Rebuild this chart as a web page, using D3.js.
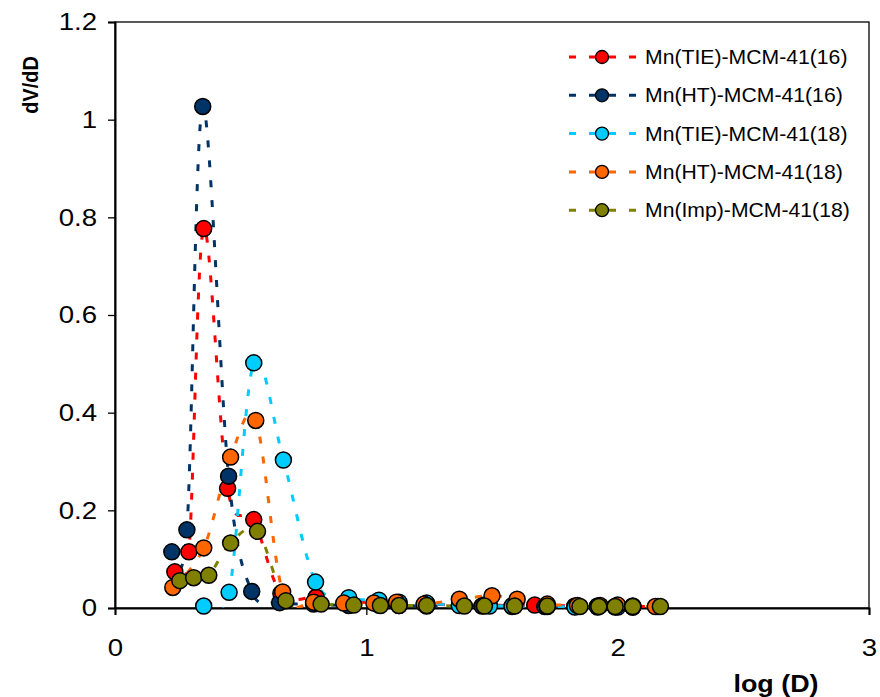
<!DOCTYPE html>
<html>
<head>
<meta charset="utf-8">
<script src="https://cdn.jsdelivr.net/npm/d3@7"></script>
<style>
    body { margin: 0; background: #fff; }
    text { font-family: "Liberation Sans", Arial, sans-serif; fill: #000; }
</style>
</head>
<body>
<div id="chart"></div>
<script>
// series labels + colours (legend order)
const seriesNames = [
    "Mn(TIE)-MCM-41(16)",
    "Mn(HT)-MCM-41(16)",
    "Mn(TIE)-MCM-41(18)",
    "Mn(HT)-MCM-41(18)",
    "Mn(Imp)-MCM-41(18)"
];
const seriesColors = ["#ff0000", "#003366", "#00ccff", "#ff6600", "#808000"];

// values: log(D) and dV/dD
const logD_TIE16 = [0.238, 0.294, 0.353, 0.448, 0.552, 0.66, 0.80, 0.93, 1.05, 1.13, 1.24, 1.38, 1.47, 1.59, 1.67, 1.83, 1.92, 1.99, 2.06, 2.16];
const dvdd_TIE16 = [0.074, 0.115, 0.777, 0.245, 0.181, 0.030, 0.022, 0.012, 0.012, 0.010, 0.008, 0.006, 0.006, 0.005, 0.006, 0.004, 0.004, 0.003, 0.003, 0.003];

const logD_HT16 = [0.226, 0.286, 0.349, 0.452, 0.544, 0.655, 0.79, 0.93, 1.05, 1.13, 1.24, 1.38, 1.46, 1.58, 1.71, 1.83, 1.92, 1.99, 2.06];
const dvdd_HT16 = [0.115, 0.160, 1.027, 0.270, 0.034, 0.011, 0.008, 0.005, 0.006, 0.005, 0.004, 0.005, 0.004, 0.003, 0.003, 0.003, 0.003, 0.002, 0.002];

const logD_TIE18 = [0.353, 0.454, 0.552, 0.67, 0.798, 0.93, 1.05, 1.13, 1.24, 1.37, 1.49, 1.58, 1.72, 1.83, 1.92, 2.00, 2.06];
const dvdd_TIE18 = [0.004, 0.032, 0.502, 0.303, 0.053, 0.021, 0.016, 0.012, 0.010, 0.005, 0.004, 0.004, 0.003, 0.002, 0.002, 0.002, 0.002];

const logD_HT18 = [0.23, 0.353, 0.46, 0.56, 0.667, 0.79, 0.91, 1.03, 1.12, 1.23, 1.37, 1.50, 1.60, 1.72, 1.84, 1.93, 2.00, 2.06, 2.15];
const dvdd_HT18 = [0.042, 0.123, 0.309, 0.384, 0.033, 0.012, 0.010, 0.010, 0.012, 0.008, 0.018, 0.025, 0.018, 0.008, 0.005, 0.005, 0.006, 0.004, 0.003];

const logD_Imp18 = [0.258, 0.313, 0.373, 0.46, 0.567, 0.68, 0.82, 0.95, 1.056, 1.13, 1.24, 1.39, 1.47, 1.59, 1.72, 1.85, 1.925, 1.99, 2.06, 2.17];
const dvdd_Imp18 = [0.056, 0.062, 0.067, 0.133, 0.157, 0.015, 0.008, 0.006, 0.005, 0.005, 0.005, 0.004, 0.004, 0.004, 0.004, 0.003, 0.003, 0.003, 0.003, 0.003];

const xTicks = [0, 1, 2, 3];
const yTicks = [0, 0.2, 0.4, 0.6, 0.8, 1, 1.2];

const w = 880,
    h = 697;
const margin = {top: 22, right: 11, bottom: 89, left: 115},
    width = w - margin.left - margin.right,
    height = h - margin.top - margin.bottom;

// the original picture is a bit stretched sideways, text gets the same stretch
const stretch = 1.12;

const allX = [logD_TIE16, logD_HT16, logD_TIE18, logD_HT18, logD_Imp18];
const allY = [dvdd_TIE16, dvdd_HT16, dvdd_TIE18, dvdd_HT18, dvdd_Imp18];

let series = seriesNames.map(function (name, i) {
    return {
        name: name,
        color: seriesColors[i],
        points: allX[i].map(function (x, j) { return {x: x, y: allY[i][j]}; })
    };
});

let x = d3.scaleLinear().domain([0, 3]).range([0, width]);
let y = d3.scaleLinear().domain([0, 1.2]).range([height, 0]);

let svg = d3.select("#chart")
    .append("svg")
    .attr("width", w)
    .attr("height", h);

let g = svg.append("g")
    .attr("transform", "translate(" + margin.left + "," + margin.top + ")");

svg.append("defs").append("clipPath")
    .attr("id", "plotClip")
    .append("rect")
    .attr("width", width)
    .attr("height", height);

// plot frame
g.append("rect")
    .attr("width", width)
    .attr("height", height)
    .attr("fill", "none")
    .attr("stroke", "#000")
    .attr("stroke-width", 1.3);

// axes
let yAxis = g.append("g")
    .call(d3.axisLeft(y).tickValues(yTicks).tickSize(7).tickPadding(11).tickFormat(d3.format("~g")));
let xAxis = g.append("g")
    .attr("transform", "translate(0," + height + ")")
    .call(d3.axisBottom(x).tickValues(xTicks).tickSize(7).tickPadding(24).tickFormat(d3.format("d")));

[yAxis, xAxis].forEach(function (ax) {
    ax.select(".domain").attr("stroke", "#000").attr("stroke-width", 2);
    ax.selectAll(".tick line").attr("stroke", "#000").attr("stroke-width", 1.3);
    ax.selectAll(".tick text")
        .style("font-size", "24px")
        .attr("font-family", null);
});
yAxis.selectAll(".tick text").each(function () {
    let t = d3.select(this);
    t.attr("transform", "translate(" + t.attr("x") + ",0) scale(1.15,1)").attr("x", 0);
});
xAxis.selectAll(".tick text").attr("transform", "scale(1.15,1)");

// axis titles
svg.append("text")
    .attr("transform", "translate(38,85) rotate(-90) scale(1," + stretch + ")")
    .attr("text-anchor", "middle")
    .style("font-size", "20px")
    .style("font-weight", "bold")
    .text("dV/dD");

svg.append("text")
    .attr("transform", "translate(776,692) scale(" + stretch + ",1)")
    .attr("text-anchor", "middle")
    .style("font-size", "24px")
    .style("font-weight", "bold")
    .text("log (D)");

// smoothed dashed lines + markers
let line = d3.line()
    .x(function (d) { return x(d.x); })
    .y(function (d) { return y(d.y); })
    .curve(d3.curveCatmullRom.alpha(0));

let plot = g.append("g").attr("clip-path", "url(#plotClip)");

series.forEach(function (s) {
    plot.append("path")
        .datum(s.points)
        .attr("fill", "none")
        .attr("stroke", s.color)
        .attr("stroke-width", 3)
        .attr("stroke-dasharray", "7,13")
        .attr("d", line);

    g.append("g")
        .selectAll("circle")
        .data(s.points)
        .enter()
        .append("circle")
        .attr("cx", function (d) { return x(d.x); })
        .attr("cy", function (d) { return y(d.y); })
        .attr("r", 8)
        .attr("fill", s.color)
        .attr("stroke", "#000")
        .attr("stroke-width", 1.5);
});

// legend
let legend = svg.append("g")
    .selectAll("g.item")
    .data(series)
    .enter()
    .append("g")
    .attr("class", "item")
    .attr("transform", function (d, i) { return "translate(569," + (57 + i * 38.3) + ")"; });

legend.append("line")
    .attr("x1", 0)
    .attr("x2", 68)
    .attr("stroke", function (d) { return d.color; })
    .attr("stroke-width", 3)
    .attr("stroke-dasharray", "7,13");

legend.append("circle")
    .attr("cx", 33)
    .attr("r", 6.5)
    .attr("fill", function (d) { return d.color; })
    .attr("stroke", "#000")
    .attr("stroke-width", 1.3);

legend.append("text")
    .attr("transform", "translate(76,0) scale(1.06,1)")
    .attr("dy", "0.35em")
    .style("font-size", "20px")
    .text(function (d) { return d.name; });
</script>
</body>
</html>
